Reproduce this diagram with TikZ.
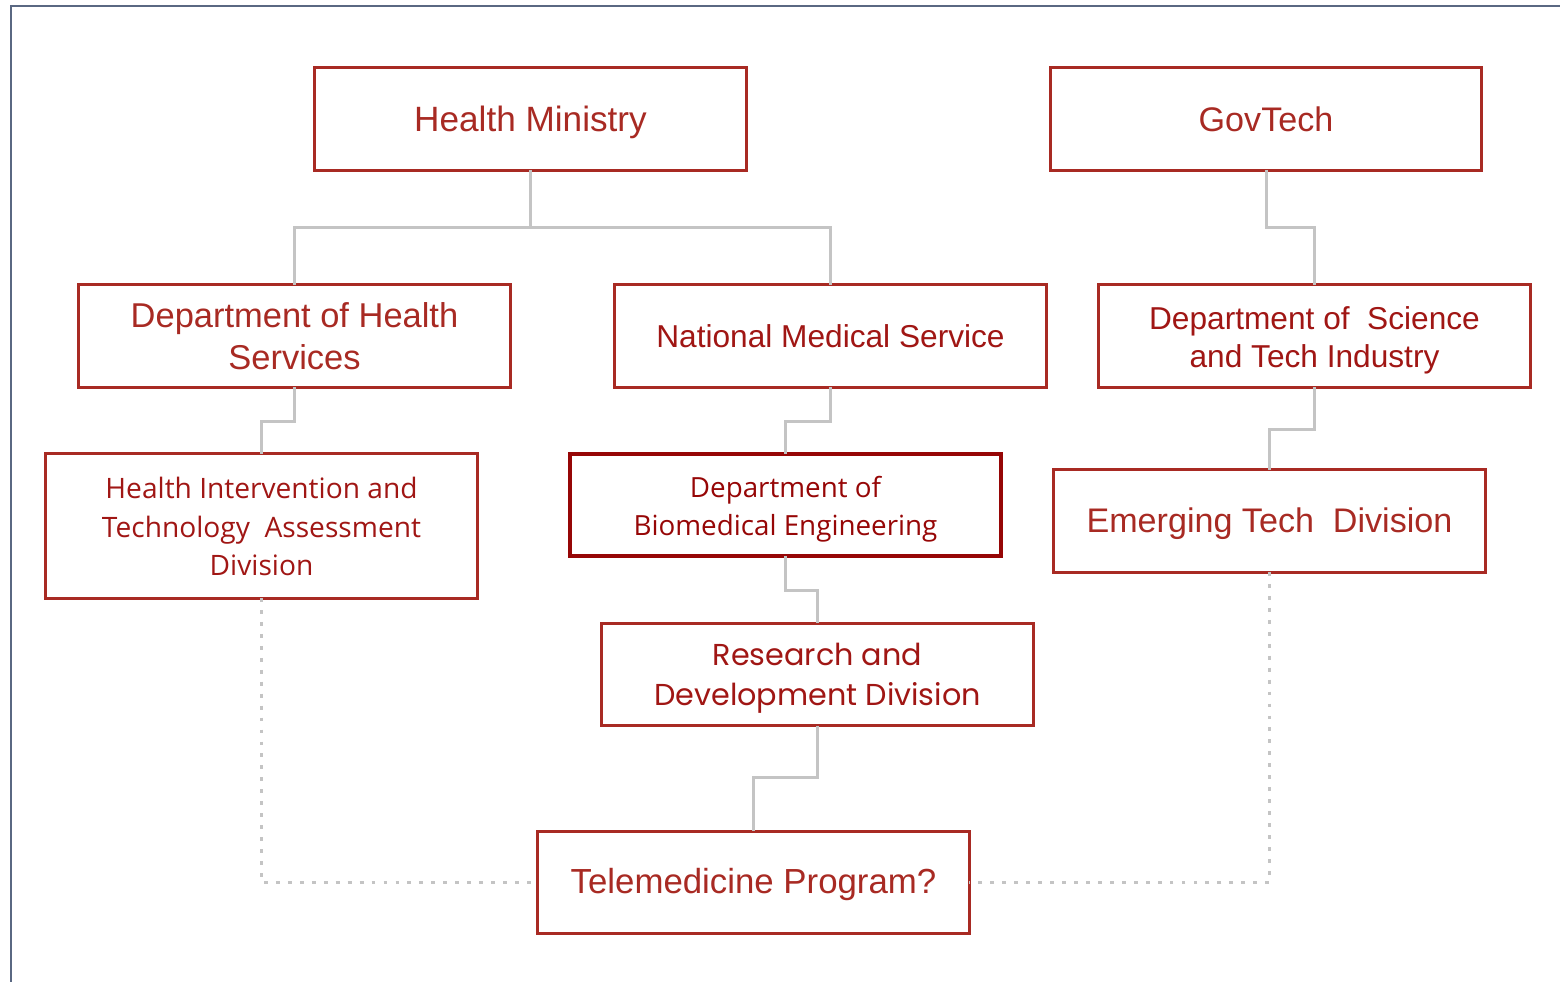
\documentclass[tikz,border=0pt]{standalone}
\usepackage{fontspec}
\usetikzlibrary{calc}
\setmainfont{Liberation Sans}
\newfontfamily\osans{Open Sans}
\newfontfamily\popf{Poppins}
\definecolor{boxred}{RGB}{168,42,35}
\definecolor{deepred}{RGB}{150,6,6}
\definecolor{txtred}{RGB}{160,22,20}
\definecolor{conn}{RGB}{196,196,196}
\definecolor{framecol}{RGB}{90,104,130}
\begin{document}
\begin{tikzpicture}[x=0.01cm,y=-0.01cm,
  orgbox/.style={draw=boxred,line width=0.85pt,minimum width=4.31cm,minimum height=1.02cm,inner sep=0pt,outer sep=0pt},
  darkbox/.style={orgbox,draw=deepred,line width=1.1pt},
  lbl/.style={inner sep=0pt,outer sep=0pt,align=center,text=boxred},
  link/.style={draw=conn,line width=0.85pt},
  dotlink/.style={draw=conn,line width=1.1pt,dash pattern=on 1.1pt off 2.3pt}]
\useasboundingbox (0,0) rectangle (1560,982);
\draw[framecol,line width=0.6pt] (11,982) -- (11,6) -- (1560,6);

% boxes
\node[orgbox] (hm) at (530.5,119) {};
\node[orgbox] (gt) at (1266,119) {};
\node[orgbox] (dhs) at (294.5,336) {};
\node[orgbox] (nms) at (830.5,336) {};
\node[orgbox] (dst) at (1314.5,336) {};
\node[orgbox,minimum height=1.44cm] (hita) at (261.5,526) {};
\node[darkbox] (dbe) at (785.5,505) {};
\node[orgbox] (emt) at (1269.5,521) {};
\node[orgbox] (rd) at (817.5,674.5) {};
\node[orgbox] (tele) at (753.5,882.5) {};

% texts
\node[lbl,font=\fontsize{10}{12}\selectfont] (hm-t) at ($(hm)+(0,3)$) {Health Ministry};
\node[lbl,font=\fontsize{9.7}{12}\selectfont] (gt-t) at ($(gt)+(0,0)$) {GovTech};
\node[lbl,font=\fontsize{9.8}{11.9}\selectfont] (dhs-t) at ($(dhs)+(0,0)$) {Department of Health\\Services};
\node[lbl,text=txtred,font=\fontsize{9}{11}\selectfont] (nms-t) at ($(nms)+(0,0)$) {National Medical Service};
\node[lbl,text=txtred,font=\fontsize{9}{10.8}\selectfont] (dst-t) at ($(dst)+(0,4)$) {Department of\ \ Science\\and Tech Industry};
\node[lbl,text=txtred,font=\osans\fontsize{8.0}{10.95}\selectfont] (hita-t) at ($(hita)+(0,0.5)$) {Health Intervention and\\Technology\ \ Assessment\\Division};
\node[lbl,text=deepred,font=\osans\fontsize{7.9}{10.8}\selectfont] (dbe-t) at ($(dbe)+(0,4)$) {Department of\\Biomedical Engineering};
\node[lbl,font=\fontsize{9.7}{12}\selectfont] (emt-t) at ($(emt)+(0,3)$) {Emerging Tech\ \ Division};
\node[lbl,text=txtred,font=\popf\fontsize{8.6}{11.4}\selectfont] (rd-t) at ($(rd)+(0,4)$) {Research and\\Development Division};
\node[lbl,font=\fontsize{9.9}{12}\selectfont] (tele-t) at ($(tele)+(0,2)$) {Telemedicine Program?};

% connectors
\draw[link] (hm.south) -- ++(0,57) coordinate (hmj);
\draw[link] (hmj) -| (dhs.north);
\draw[link] (hmj) -| (nms.north);
\draw[link] (gt.south) -- ++(0,57) -| (dst.north);
\draw[link] (dhs.south) -- ++(0,34) -| (hita.north);
\draw[link] (nms.south) -- ++(0,34) -| (dbe.north);
\draw[link] (dst.south) -- ++(0,42) -| (emt.north);
\draw[link] (dbe.south) -- ++(0,34) -| (rd.north);
\draw[link] (rd.south) -- ++(0,52) -| (tele.north);
\draw[dotlink] (hita.south) |- (tele.west);
\draw[dotlink] (emt.south) |- (tele.east);
\end{tikzpicture}
\end{document}
